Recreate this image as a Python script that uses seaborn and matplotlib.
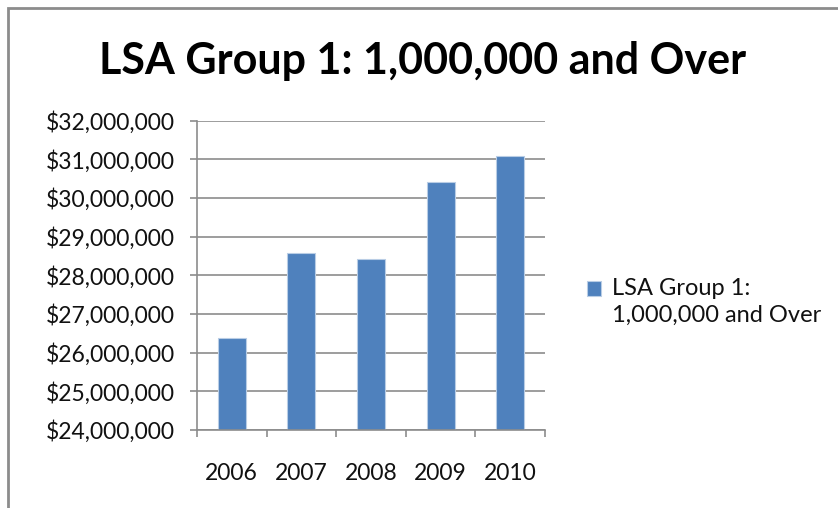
import numpy as np
import pandas as pd
import matplotlib
matplotlib.use("Agg")
import matplotlib.pyplot as plt
import seaborn as sns
from matplotlib.ticker import FuncFormatter, FixedLocator
from matplotlib.patches import Rectangle
from matplotlib.container import BarContainer
from matplotlib.legend_handler import HandlerPatch, update_from_first_child

# data
years = ["2006", "2007", "2008", "2009", "2010"]
amounts = [26390000, 28580000, 28420000, 30410000, 31080000]
series_name = "LSA Group 1:\n1,000,000 and Over"
title = "LSA Group 1: 1,000,000 and Over"

df = pd.DataFrame({"year": years, "amount": amounts})

sns.set_theme(style="white")
plt.rcParams["font.family"] = ["Lato", "DejaVu Sans"]

fig = plt.figure(figsize=(8.38, 5.08), dpi=100)
ax = fig.add_axes([197 / 838, 1 - 430 / 508, 348 / 838, 309.5 / 508])

sns.barplot(data=df, x="year", y="amount", color="#4F81BD", width=0.4,
            edgecolor="#B9CDE5", linewidth=0.8, saturation=1,
            label=series_name, ax=ax)

ax.set_ylim(24000000, 32000000)
ax.set_xlim(-0.5, 4.5)
ax.yaxis.set_major_locator(FixedLocator(np.arange(24000000, 32000001, 1000000)))
ax.yaxis.set_major_formatter(FuncFormatter(lambda v, p: "${:,.0f}".format(v)))
ax.grid(axis="y", color="#8C8C8C", linewidth=1.2)
ax.set_axisbelow(True)

for side in ["top", "right"]:
    ax.spines[side].set_visible(False)
for side in ["left", "bottom"]:
    ax.spines[side].set_color("#8C8C8C")
    ax.spines[side].set_linewidth(1.2)

ax.tick_params(axis="y", which="major", left=True, length=5, width=1.2,
               color="#8C8C8C", labelsize=16.5, labelcolor="#111111", pad=11)
ax.tick_params(axis="x", which="major", bottom=False, length=0,
               labelsize=16.5, labelcolor="#111111", pad=24)
ax.xaxis.set_minor_locator(FixedLocator(np.arange(-0.5, 5, 1)))
ax.tick_params(axis="x", which="minor", bottom=True, length=5, width=1.2,
               color="#8C8C8C")
ax.set_xlabel("")
ax.set_ylabel("")


# legend square sits next to the first line of the label, like Excel
def top_square(legend, orig_handle, xdescent, ydescent, width, height, fontsize):
    return Rectangle((-xdescent, -ydescent + 0.6 * fontsize), width, height)


leg = ax.legend(loc="center left", bbox_to_anchor=(566 / 838, 1 - 302 / 508),
                bbox_transform=fig.transFigure, frameon=False, fontsize=17,
                handlelength=0.6, handleheight=0.6, handletextpad=0.45,
                handler_map={BarContainer: HandlerPatch(
                    patch_func=top_square, update_func=update_from_first_child)})
for t in leg.get_texts():
    t.set_color("#111111")
    t.set_linespacing(1.3)

fig.text(423 / 838, 1 - 74 / 508, title, ha="center", va="baseline",
         fontsize=31, fontweight="bold", color="black")

# chart border
fig.patches.append(Rectangle((8 / 838, -0.1), 1.1, 1.1 - 8 / 508,
                             transform=fig.transFigure, fill=False,
                             edgecolor="#8C8C8C", linewidth=2))

fig.savefig("out.png", dpi=100)
